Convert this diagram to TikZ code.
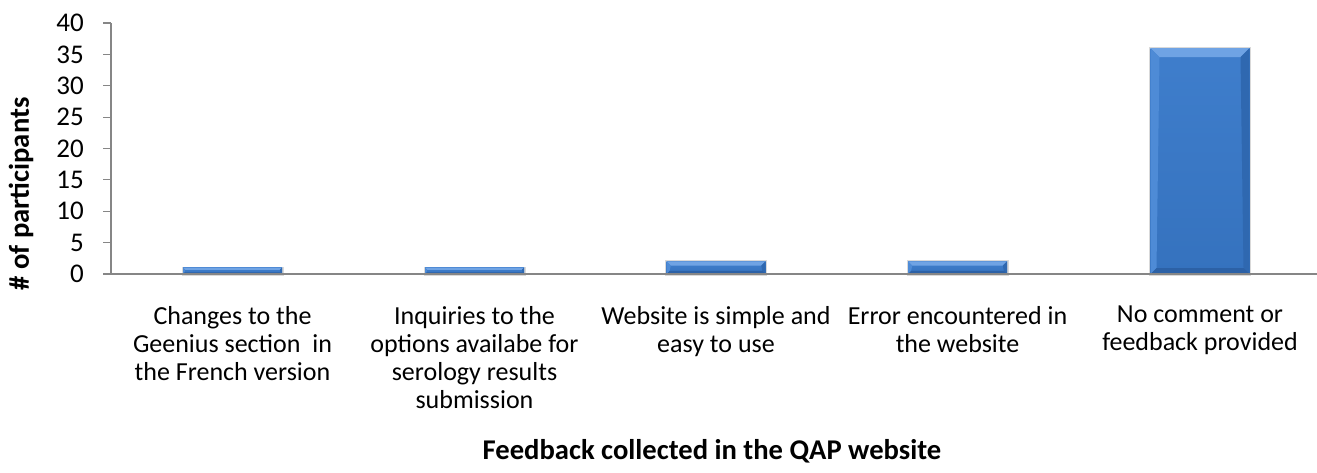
\documentclass[tikz,border=0pt]{standalone}
\usepackage{fontspec}
\setmainfont{Carlito}
\definecolor{axisgray}{HTML}{868686}
\definecolor{bartop}{HTML}{6FA3E4}
\definecolor{barleft}{HTML}{4E8BD6}
\definecolor{barfaceA}{HTML}{3F7ECC}
\definecolor{barfaceB}{HTML}{3572BE}
\definecolor{barright}{HTML}{2F68B0}
\definecolor{barbottom}{HTML}{2C61A6}
\tikzset{
  axisline/.style={draw=axisgray, line width=1.2pt},
  ticklabel/.style={font=\fontsize{27}{28}\selectfont, anchor=east, inner sep=0pt},
  catlabel/.style={font=\fontsize{26}{28}\selectfont, align=center, anchor=north, inner sep=0pt},
  axistitle/.style={font=\fontsize{28.6}{30}\selectfont\bfseries, inner sep=0pt},
}
\newcommand{\chartbar}[3]{% name, center x, value
  \pgfmathsetmacro{\xa}{#2-49.5}
  \pgfmathsetmacro{\xb}{#2+49.5}
  \pgfmathsetmacro{\yt}{274-6.275*#3}
  \pgfmathsetmacro{\bv}{min(9,(274-\yt)/3)}
  \pgfmathsetmacro{\bw}{min(6,(274-\yt)/4)}
  \fill[gray!30] (\xa-1.5,\yt-1) rectangle (\xb+1.5,275.5);
  \shade[top color=barfaceA, bottom color=barfaceB] (\xa,\yt) rectangle (\xb,274);
  \fill[bartop] (\xa,\yt) -- (\xb,\yt) -- (\xb-\bv,\yt+\bv) -- (\xa+\bv,\yt+\bv) -- cycle;
  \fill[barleft] (\xa,\yt) -- (\xa+\bv,\yt+\bv) -- (\xa+\bw,274-\bw) -- (\xa,274) -- cycle;
  \fill[barright] (\xb,\yt) -- (\xb-\bv,\yt+\bv) -- (\xb-\bw,274-\bw) -- (\xb,274) -- cycle;
  \fill[barbottom] (\xa,274) -- (\xa+\bw,274-\bw) -- (\xb-\bw,274-\bw) -- (\xb,274) -- cycle;
  \coordinate (#1) at (#2,\yt);
}
\begin{document}
\begin{tikzpicture}[x=1pt,y=-1pt]
\useasboundingbox[fill=white] (0,0) rectangle (1317,472);
% bars
\chartbar{b1}{232.5}{1}
\chartbar{b2}{474.5}{1}
\chartbar{b3}{716}{2}
\chartbar{b4}{957.5}{2}
\chartbar{b5}{1200}{36}
% axes
\coordinate (origin) at (111,274);
\coordinate (ytop) at (111,23);
\coordinate (xend) at (1317,274);
\draw[axisline] (ytop) -- (origin) -- (xend);
\foreach \v in {0,5,...,40}{
  \pgfmathsetmacro{\yy}{274-6.275*\v}
  \coordinate (t\v) at (111,\yy);
  \draw[axisline] (t\v) -- ++(-8,0);
  \node[ticklabel] (l\v) at (84,\yy) {\v};
}
% category labels
\node[catlabel] (c1) at (232.5,306) {Changes to the\\Geenius section\ \ in\\the French version};
\node[catlabel] (c2) at (474.5,306) {Inquiries to the\\options availabe for\\serology results\\submission};
\node[catlabel] (c3) at (716,306) {Website is simple and\\easy to use};
\node[catlabel] (c4) at (957.5,306) {Error encountered in\\the website};
\node[catlabel] (c5) at (1200,306) {No comment or\\feedback provided};
% titles
\node[axistitle, rotate=90] (ytitle) at (21,194) {\# of participants};
\node[axistitle] (xtitle) at (712,451) {Feedback collected in the QAP website};
\end{tikzpicture}
\end{document}
